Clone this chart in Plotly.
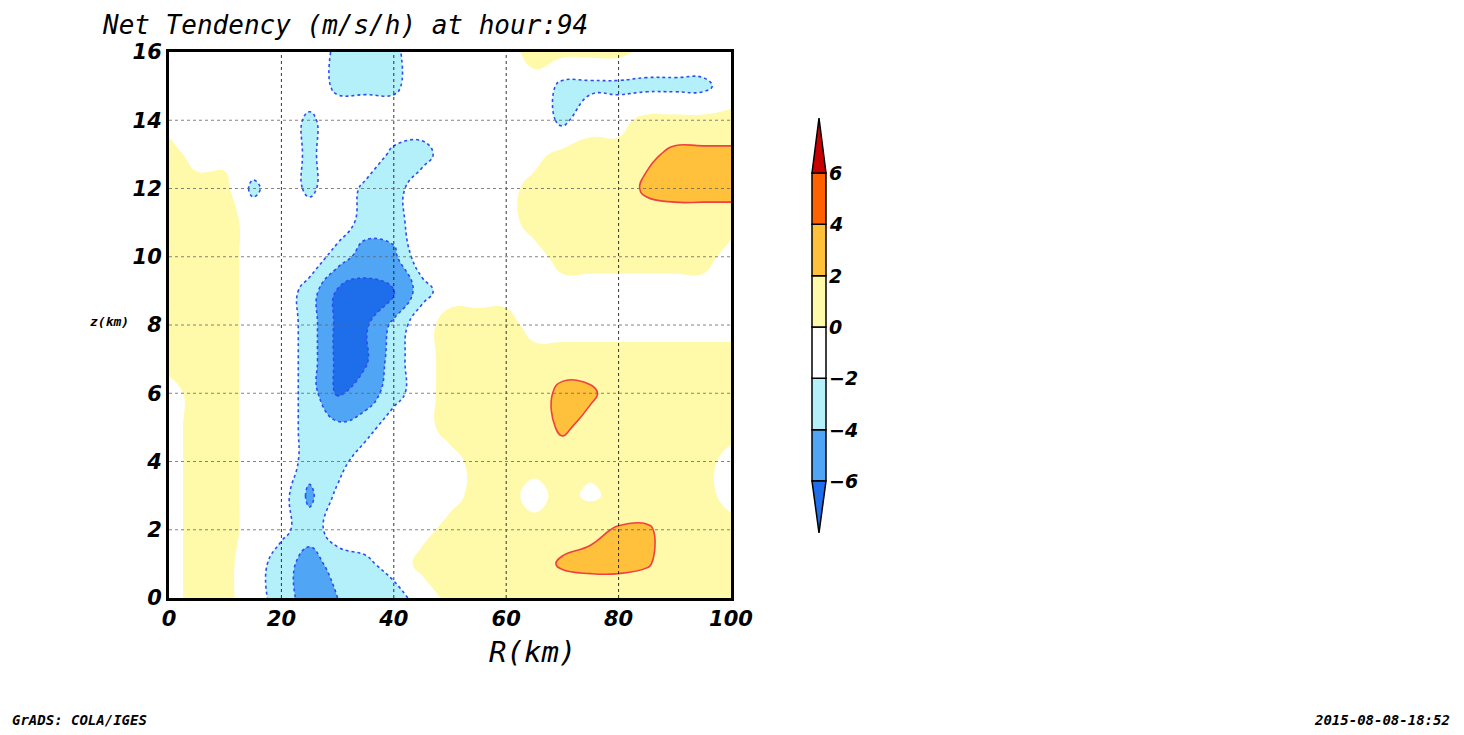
import plotly.graph_objects as go

# radius (km) and height (km) of the grid
r_km = [0, 5, 10, 15, 20, 25, 30, 35, 40, 45, 50, 55, 60, 65, 70, 75, 80, 85, 90, 95, 100]
z_km = list(range(17))

# net tendency (m/s/h), one row per height
tend = [
    [-0.5, 0.5, 0.5, -1, -3, -5, -4, -3, -3, -1, 0.5, 0.5, 0.5, 0.5, 0.5, 0.5, 0.5, 0.5, 0.5, 0.5, 0.5],
    [-0.5, 0.5, 0.5, -1, -3, -5, -3, -2.5, -1, 0.5, 0.5, 0.5, 0.5, 1, 2.3, 2.6, 2.6, 2.2, 1, 1, 1],
    [-0.5, 0.5, 0.5, -0.5, -1.5, -3, -1, -0.5, -0.5, -0.5, 0.5, 0.5, 0.5, 0.5, 1, 1.5, 2.2, 2.3, 1, 0.5, 0.5],
    [-0.5, 0.5, 0.5, -0.5, -1, -4.5, -1.5, -0.5, -0.5, -0.5, -0.5, 0.5, 0.5, -0.5, 0.5, -0.3, 0.5, 0.5, 0.5, 0.5, -0.5],
    [-0.5, 0.5, 0.5, -0.5, -0.5, -3, -3, -0.5, -0.5, -0.5, -0.5, 0.5, 0.5, 0.5, 0.5, 0.5, 0.5, 0.5, 1, 0.5, -0.5],
    [-0.5, 0.5, 0.5, -0.5, -0.5, -3, -3.5, -3, -0.5, -0.5, 0.5, 0.5, 0.5, 0.5, 2.5, 1, 0.5, 1.5, 0.5, 0.5, 0.5],
    [-0.5, 0.5, 0.5, -0.5, -0.5, -3, -6.3, -5, -3, -0.5, 0.5, 0.5, 0.5, 0.5, 2.8, 2.5, 0.5, 0.5, 0.5, 0.5, 0.5],
    [0.5, 0.5, 0.5, -0.5, -0.5, -3, -6.5, -6.3, -3, -0.5, 0.5, 0.5, 0.5, 0.5, 0.5, 0.5, 0.5, 0.5, 0.5, 0.5, 0.5],
    [0.5, 0.5, 0.5, -0.5, -0.5, -3, -6.5, -6.3, -3.5, -0.5, 0.5, 0.5, 0.5, -0.5, -0.5, -0.5, -0.5, -0.5, -0.5, -0.5, -0.5],
    [0.5, 0.5, 0.5, -0.5, -0.5, -3, -6.2, -6.6, -6.2, -3, -0.5, -0.5, -0.5, -0.5, -0.5, -0.5, -0.5, -0.5, -0.5, -0.5, -0.5],
    [0.5, 0.5, 0.5, -0.5, -0.5, -0.5, -3, -5, -4.5, -0.5, -0.5, -0.5, -0.5, -0.5, 0.5, 0.5, 0.5, 0.5, 0.5, 0.5, -0.5],
    [0.5, 0.5, 0.5, -0.5, -0.5, -0.5, -0.5, -3, -3, -0.5, -0.5, -0.5, -0.5, 0.5, 0.5, 0.5, 0.5, 0.5, 0.5, 0.5, 0.5],
    [0.5, 0.5, 0.5, -2.5, -0.5, -2.5, -0.5, -2.5, -3, -0.5, -0.5, -0.5, -0.5, 0.5, 0.5, 0.5, 0.5, 2.5, 3, 3, 3],
    [0.5, -0.5, -0.5, -0.5, -0.5, -2.5, -0.5, -0.5, -2.5, -3, -0.5, -0.5, -0.5, -0.5, 0.5, 0.5, 0.5, 1.5, 2.5, 2.5, 2.5],
    [-0.5, -0.5, -0.5, -0.5, -0.5, -2.5, -0.5, -0.5, -0.5, -0.5, -0.5, -0.5, -0.5, -0.5, -2.5, -0.5, -0.5, 0.5, 0.5, 0.5, 0.5],
    [-0.5, -0.5, -0.5, -0.5, -0.5, -0.5, -2.5, -2.5, -2.5, -0.5, -0.5, -0.5, -0.5, -0.5, -2.5, -2.5, -2.5, -2.5, -2.5, -2.5, -1],
    [-0.5, -0.5, -0.5, -0.5, -0.5, -0.5, -2.5, -2.5, -2.5, -0.5, -0.5, -0.5, -0.5, 0.5, 0.5, 0.5, 0.5, -0.5, -0.5, -0.5, -0.5],
]

levels = [-6, -4, -2, 0, 2, 4, 6]
r_ticks = [0, 20, 40, 60, 80, 100]
z_ticks = list(range(0, 17, 2))
band_colors = ["#1e6eeb", "#50a5f5", "#b4f0fa", "#ffffff",
               "#fffaaa", "#ffc03c", "#ff6000", "#c80000"]

# the page has an 8px body margin, so draw into a slightly smaller canvas
W, H = 1448, 719
OFF = 8

n = len(band_colors)
cscale = []
for i, c in enumerate(band_colors):
    cscale.append([i / n, c])
    cscale.append([(i + 1) / n, c])

fig = go.Figure()
fig.add_trace(go.Contour(
    x=r_km, y=z_km, z=tend, zmin=-8, zmax=8, colorscale=cscale,
    contours=dict(start=-6, end=6, size=2, coloring="fill"),
    line=dict(width=0, smoothing=1.3), showscale=False, hoverinfo="skip"))
fig.add_trace(go.Contour(
    x=r_km, y=z_km, z=tend,
    contours=dict(start=-6, end=-2, size=2, coloring="none"),
    line=dict(color="#2a4ef0", width=1.6, dash="dot", smoothing=1.3),
    showscale=False, hoverinfo="skip"))
fig.add_trace(go.Contour(
    x=r_km, y=z_km, z=tend,
    contours=dict(start=2, end=4, size=2, coloring="none"),
    line=dict(color="#f04040", width=1.6, smoothing=1.3),
    showscale=False, hoverinfo="skip"))

def px(x):
    return (x - OFF) / W

def py(y):
    return 1 - (y - OFF) / H

tick_font = dict(family="DejaVu Sans", size=21, color="black", weight="bold", style="italic")
axis_common = dict(showgrid=False, showline=True, linecolor="black", linewidth=3, mirror=True,
                   ticks="", zeroline=False, tickfont=tick_font, automargin=False)
fig.update_xaxes(range=[0, 100], domain=[px(169), px(731)], tickvals=r_ticks, **axis_common)
fig.update_yaxes(range=[0, 16], domain=[py(598), py(52)], tickvals=z_ticks, **axis_common)

shapes = []
# dotted grid drawn above the fills
for r in r_ticks[1:-1]:
    shapes.append(dict(type="line", xref="x", yref="y", x0=r, x1=r, y0=0, y1=16,
                       line=dict(color="black", width=0.8, dash="dot")))
for z in z_ticks[1:-1]:
    shapes.append(dict(type="line", xref="x", yref="y", x0=0, x1=100, y0=z, y1=z,
                       line=dict(color="#666", width=0.8, dash="dot")))

# colour bar drawn by hand (GrADS style with triangles)
x0, x1 = px(812), px(826)
top, bot = 173, 481
step = (bot - top) / 6
for i in range(6):
    ya = bot - i * step
    shapes.append(dict(type="rect", xref="paper", yref="paper", x0=x0, x1=x1,
                       y0=py(ya), y1=py(ya - step), fillcolor=band_colors[i + 1],
                       line=dict(color="black", width=1.5)))
shapes.append(dict(type="path", xref="paper", yref="paper",
                   path=f"M {x0} {py(bot)} L {x1} {py(bot)} L {(x0 + x1) / 2} {py(533)} Z",
                   fillcolor=band_colors[0], line=dict(color="black", width=1.5)))
shapes.append(dict(type="path", xref="paper", yref="paper",
                   path=f"M {x0} {py(top)} L {x1} {py(top)} L {(x0 + x1) / 2} {py(118)} Z",
                   fillcolor=band_colors[-1], line=dict(color="black", width=1.5)))

ann = []
for i, lv in enumerate(levels):
    ann.append(dict(x=px(827), y=py(bot - i * step), text=f"<i><b>{lv}</b></i>".replace("-", "−"),
                    xanchor="left", font=dict(family="DejaVu Sans", size=19, color="black")))
mono = "DejaVu Sans Mono"
ann += [
    dict(x=px(100), y=py(25), text="<i>Net Tendency (m/s/h) at hour:94</i>", xanchor="left",
         font=dict(family=mono, size=26, color="black")),
    dict(x=px(487), y=py(652), text="<i>R(km)</i>", font=dict(family=mono, size=29, color="black")),
    dict(x=px(88), y=py(321), text="<i><b>z(km)</b></i>", font=dict(family=mono, size=13, color="black")),
    dict(x=px(10), y=py(720), text="<i><b>GrADS: COLA/IGES</b></i>", xanchor="left",
         font=dict(family=mono, size=14, color="black")),
    dict(x=px(1452), y=py(720), text="<i><b>2015-08-08-18:52</b></i>", xanchor="right",
         font=dict(family=mono, size=14, color="black")),
]
for a in ann:
    a.update(xref="paper", yref="paper", showarrow=False, yanchor="middle")

fig.update_layout(width=W, height=H, margin=dict(l=0, r=0, t=0, b=0),
                  plot_bgcolor="white", paper_bgcolor="white",
                  shapes=shapes, annotations=ann, showlegend=False)
fig.write_html("out.html")
